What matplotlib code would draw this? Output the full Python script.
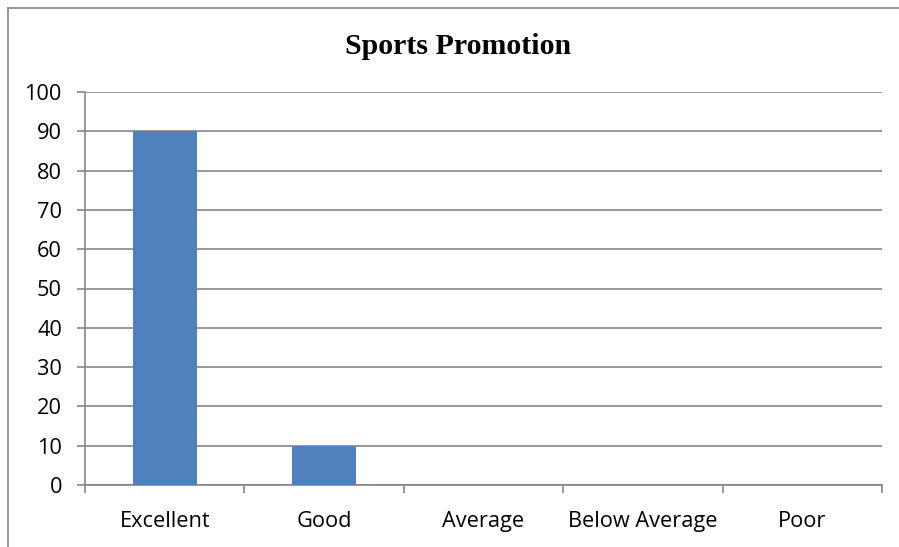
import matplotlib
matplotlib.use("Agg")
import matplotlib.pyplot as plt
from matplotlib.lines import Line2D
import numpy as np

categories = ["Excellent", "Good", "Average", "Below Average", "Poor"]
values = [90, 10, 0, 0, 0]
yticks = [0, 10, 20, 30, 40, 50, 60, 70, 80, 90, 100]
title = "Sports Promotion"

W, H = 899, 547
fig = plt.figure(figsize=(W / 100, H / 100), dpi=100)
fig.patch.set_facecolor("white")

left, right, top, bottom = 85, 882, 92, 485
ax = fig.add_axes([left / W, 1 - bottom / H, (right - left) / W, (bottom - top) / H])

gray = "#868686"
x = np.arange(len(categories))
ax.bar(x, values, width=0.4, color="#4F81BD", zorder=3)
ax.set_xlim(-0.5, len(categories) - 0.5)
ax.set_ylim(0, 100)
ax.set_yticks(yticks)
ax.yaxis.grid(True, color=gray, linewidth=1.2, zorder=0)
ax.set_axisbelow(True)

for s in ["top", "right"]:
    ax.spines[s].set_visible(False)
for s in ["left", "bottom"]:
    ax.spines[s].set_color(gray)
    ax.spines[s].set_linewidth(1.2)

font = "Open Sans"
fs = 15.7
ax.set_xticks(x)
ax.set_xticklabels(categories, fontname=font, fontsize=fs)
ax.set_xticks(np.arange(-0.5, len(categories)), minor=True)
ax.tick_params(axis="x", which="major", length=0, pad=18.5)
ax.tick_params(axis="x", which="minor", length=5.8, width=1.2, color=gray, direction="out")
ax.tick_params(axis="y", length=5.8, width=1.2, color=gray, pad=10.8)
for lbl in ax.get_yticklabels():
    lbl.set_fontname(font)
    lbl.set_fontsize(fs)

fig.text(458.5 / W, 1 - 54 / H, title, fontname="Liberation Serif", fontweight="bold",
         fontsize=21.5, ha="center", va="baseline")

fig.add_artist(Line2D([7.5 / W, 7.5 / W], [0, 1 - 7.5 / H], transform=fig.transFigure,
                      color=gray, linewidth=1.2))
fig.add_artist(Line2D([7.5 / W, 1], [1 - 7.5 / H, 1 - 7.5 / H], transform=fig.transFigure,
                      color=gray, linewidth=1.2))

fig.savefig("out.png", dpi=100)
